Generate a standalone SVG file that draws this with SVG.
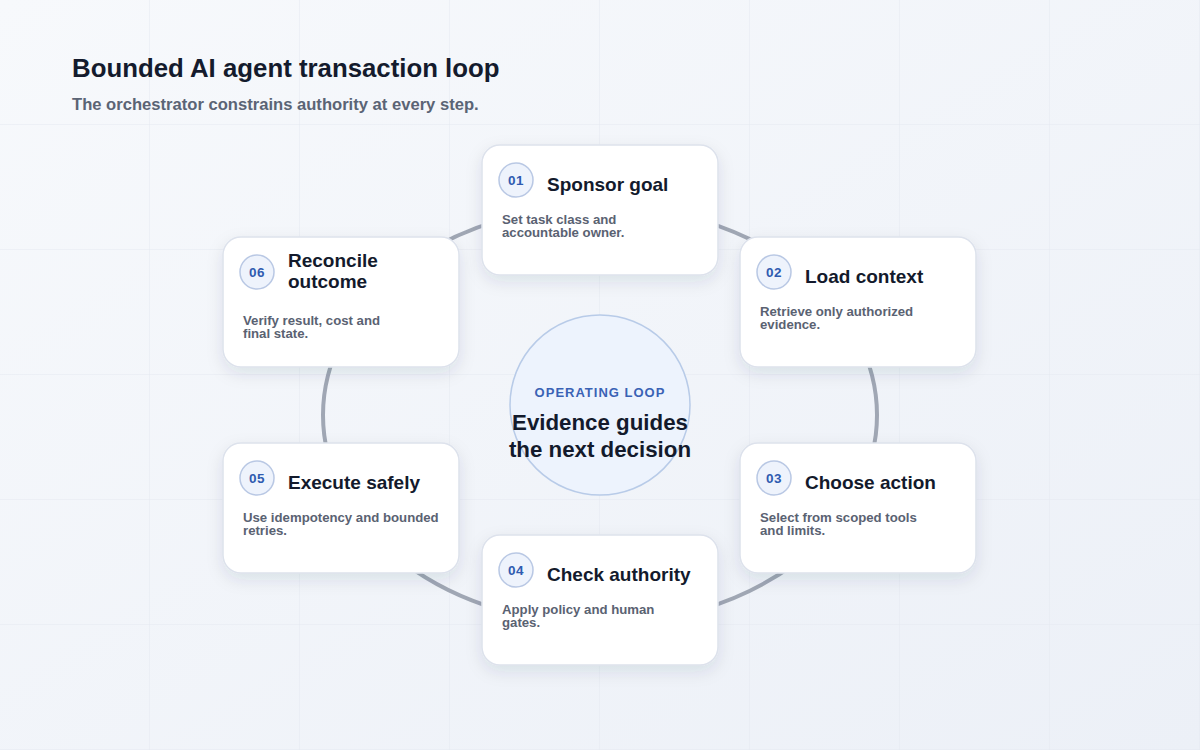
<svg xmlns="http://www.w3.org/2000/svg" width="1200" height="750" viewBox="0 0 1200 750">
<defs>
<linearGradient id="bg" x1="0" y1="0" x2="1" y2="1">
<stop offset="0" stop-color="#f7f9fc"/>
<stop offset="1" stop-color="#ecf0f7"/>
</linearGradient>
<pattern id="grid" width="150" height="125" patternUnits="userSpaceOnUse">
<path d="M150 0V125M0 125H150" fill="none" stroke="#e5e9f0" stroke-width="1"/>
</pattern>
<filter id="sh" x="-20%" y="-20%" width="140%" height="150%">
<feDropShadow dx="0" dy="6" stdDeviation="8" flood-color="#1e2a4a" flood-opacity="0.10"/>
</filter>
<style>
.card{fill:#ffffff;stroke:#dde2ec;stroke-width:1.5;filter:url(#sh)}
.badge{fill:#eef3fc;stroke:#b9c8e4;stroke-width:1.5}
.num{font-family:"Liberation Sans",Arial,sans-serif;font-weight:bold;font-size:13.5px;fill:#2f5bb0;text-anchor:middle;letter-spacing:0.5px}
.ttl{font-family:"Liberation Sans",Arial,sans-serif;font-weight:bold;font-size:19px;fill:#131a2c}
.desc{font-family:"Liberation Sans",Arial,sans-serif;font-weight:bold;font-size:13.2px;fill:#5a6272}
.ring{fill:none;stroke:#a0a7b4;stroke-width:4}
</style>
</defs>
<rect width="1200" height="750" fill="url(#bg)"/>
<rect width="1200" height="750" fill="url(#grid)"/>
<text x="72" y="77" font-family="Liberation Sans, Arial, sans-serif" font-weight="bold" font-size="25.8" fill="#141b2d">Bounded AI agent transaction loop</text>
<text x="72" y="110" font-family="Liberation Sans, Arial, sans-serif" font-weight="bold" font-size="16.6" fill="#5b6475">The orchestrator constrains authority at every step.</text>
<g id="connectors">
<ellipse class="ring" cx="600" cy="415" rx="277" ry="209"/>
</g>
<g id="center">
<circle cx="600" cy="405" r="90" fill="#edf3fd" stroke="#b8cbe8" stroke-width="1.5"/>
<text x="600" y="397" text-anchor="middle" font-family="Liberation Sans, Arial, sans-serif" font-weight="bold" font-size="13" letter-spacing="1" fill="#3a62b5">OPERATING LOOP</text>
<text x="600" y="430" text-anchor="middle" font-family="Liberation Sans, Arial, sans-serif" font-weight="bold" font-size="22.3" fill="#131a2c">Evidence guides</text>
<text x="600" y="457" text-anchor="middle" font-family="Liberation Sans, Arial, sans-serif" font-weight="bold" font-size="22.3" fill="#131a2c">the next decision</text>
</g>
<g id="step01">
<rect class="card" x="482" y="145" width="236" height="130" rx="18"/>
<circle class="badge" cx="516" cy="180" r="17"/>
<text class="num" x="516" y="185">01</text>
<text class="ttl" x="547" y="191">Sponsor goal</text>
<text class="desc" x="502" y="224">Set task class and</text>
<text class="desc" x="502" y="237">accountable owner.</text>
</g>
<g id="step02">
<rect class="card" x="740" y="237" width="236" height="130" rx="18"/>
<circle class="badge" cx="774" cy="272" r="17"/>
<text class="num" x="774" y="277">02</text>
<text class="ttl" x="805" y="283">Load context</text>
<text class="desc" x="760" y="316">Retrieve only authorized</text>
<text class="desc" x="760" y="329">evidence.</text>
</g>
<g id="step03">
<rect class="card" x="740" y="443" width="236" height="130" rx="18"/>
<circle class="badge" cx="774" cy="478" r="17"/>
<text class="num" x="774" y="483">03</text>
<text class="ttl" x="805" y="489">Choose action</text>
<text class="desc" x="760" y="522">Select from scoped tools</text>
<text class="desc" x="760" y="535">and limits.</text>
</g>
<g id="step04">
<rect class="card" x="482" y="535" width="236" height="130" rx="18"/>
<circle class="badge" cx="516" cy="570" r="17"/>
<text class="num" x="516" y="575">04</text>
<text class="ttl" x="547" y="581">Check authority</text>
<text class="desc" x="502" y="614">Apply policy and human</text>
<text class="desc" x="502" y="627">gates.</text>
</g>
<g id="step05">
<rect class="card" x="223" y="443" width="236" height="130" rx="18"/>
<circle class="badge" cx="257" cy="478" r="17"/>
<text class="num" x="257" y="483">05</text>
<text class="ttl" x="288" y="489">Execute safely</text>
<text class="desc" x="243" y="522">Use idempotency and bounded</text>
<text class="desc" x="243" y="535">retries.</text>
</g>
<g id="step06">
<rect class="card" x="223" y="237" width="236" height="130" rx="18"/>
<circle class="badge" cx="257" cy="272" r="17"/>
<text class="num" x="257" y="277">06</text>
<text class="ttl" x="288" y="267">Reconcile</text>
<text class="ttl" x="288" y="288">outcome</text>
<text class="desc" x="243" y="325">Verify result, cost and</text>
<text class="desc" x="243" y="338">final state.</text>
</g>
</svg>
